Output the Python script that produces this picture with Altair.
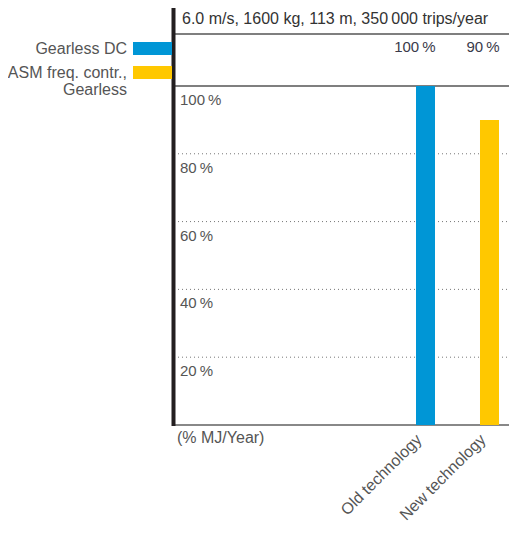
import altair as alt
import pandas as pd

categories = ["Old technology", "New technology"]
values = [100, 90]
value_labels = ["100\u2009%", "90\u2009%"]
bar_colors = ["#0096d6", "#ffc800"]
legend_names = ["Gearless DC", "ASM freq. contr.,\nGearless"]
tick_values = [20, 40, 60, 80]
tick_labels = ["20\u2009%", "40\u2009%", "60\u2009%", "80\u2009%", "100\u2009%"]
header_text = "6.0 m/s, 1600 kg, 113 m, 350\u2009000 trips/year"
axis_note = "(% MJ/Year)"

FONT = "Liberation Sans"
W, H = 335, 417
yscale = alt.Scale(domain=[0, 123], nice=False, zero=True)
xscale = alt.Scale(domain=categories, range=[242, 325], paddingInner=0.703, paddingOuter=0)
x_axis = alt.Axis(title=None, domain=False, ticks=False, labelAngle=-45,
                  labelFont=FONT, labelFontSize=16, labelColor="#555555",
                  labelPadding=6, labelOffset=-12)

bars_df = pd.DataFrame({"cat": categories, "val": values, "lab": value_labels})
ticks_df = pd.DataFrame({"v": tick_values + [100], "lab": tick_labels})
grid_df = pd.DataFrame({"v": tick_values})
top_df = pd.DataFrame({"v": [100]})

bars = alt.Chart(bars_df).mark_bar().encode(
    x=alt.X("cat:N", scale=xscale, axis=x_axis),
    y=alt.Y("val:Q", scale=yscale, axis=None),
    color=alt.Color("cat:N", scale=alt.Scale(domain=categories, range=bar_colors), legend=None),
)

value_text = alt.Chart(bars_df).mark_text(
    align="right", baseline="middle", dx=10, font=FONT, fontSize=15, color="#3a3a4a"
).encode(
    x=alt.X("cat:N", scale=xscale, axis=x_axis),
    y=alt.value(39),
    text="lab:N",
)

grid = alt.Chart(grid_df).mark_rule(strokeDash=[1, 3], color="#777777", strokeWidth=1).encode(
    x=alt.value(4), x2=alt.value(W), y=alt.Y("v:Q", scale=yscale, axis=None)
)

line100 = alt.Chart(top_df).mark_rule(color="#555555", strokeWidth=1.5).encode(
    x=alt.value(0), x2=alt.value(W), y=alt.Y("v:Q", scale=yscale, axis=None)
)

tick_text = alt.Chart(ticks_df).mark_text(
    align="left", baseline="middle", dy=14, font=FONT, fontSize=15, color="#555555"
).encode(
    x=alt.value(6), y=alt.Y("v:Q", scale=yscale, axis=None), text="lab:N"
)

header_rule = alt.Chart(top_df).mark_rule(color="#555555", strokeWidth=1.5).encode(
    x=alt.value(0), x2=alt.value(W), y=alt.value(26)
)
header = alt.Chart(top_df).mark_text(
    align="left", baseline="middle", font=FONT, fontSize=16, color="#333333"
).encode(x=alt.value(8), y=alt.value(11), text=alt.value(header_text))

bottom_rule = alt.Chart(top_df).mark_rule(color="#888888", strokeWidth=2).encode(
    x=alt.value(0), x2=alt.value(W), y=alt.value(H)
)
left_rule = alt.Chart(top_df).mark_rule(color="#231f20", strokeWidth=4).encode(
    x=alt.value(-0.5), x2=alt.value(-0.5), y=alt.value(0), y2=alt.value(H + 1)
)
note = alt.Chart(top_df).mark_text(
    align="left", baseline="middle", font=FONT, fontSize=16, color="#555555"
).encode(x=alt.value(3), y=alt.value(430), text=alt.value(axis_note))

legend_layers = []
sw_y = [34, 58]
for i, (name, col) in enumerate(zip(legend_names, bar_colors)):
    legend_layers.append(
        alt.Chart(top_df).mark_rule(color=col, strokeWidth=13).encode(
            x=alt.value(-41), x2=alt.value(-2), y=alt.value(sw_y[i] + 6.5)
        )
    )
    for j, line in enumerate(name.split("\n")):
        legend_layers.append(
            alt.Chart(top_df).mark_text(
                align="right", baseline="middle", font=FONT, fontSize=16, color="#555555"
            ).encode(x=alt.value(-47), y=alt.value(sw_y[i] + 6.5 + 17 * j), text=alt.value(line))
        )

chart = alt.layer(
    grid, line100, header_rule, bottom_rule, bars, value_text, tick_text, header, note,
    left_rule, *legend_layers
).properties(
    width=W, height=H,
    autosize=alt.AutoSizeParams(type="none"),
    padding={"left": 166, "top": 0, "right": 0, "bottom": 100},
).configure_view(stroke=None)

chart.save("out.html", embed_options={"renderer": "svg", "actions": False})
